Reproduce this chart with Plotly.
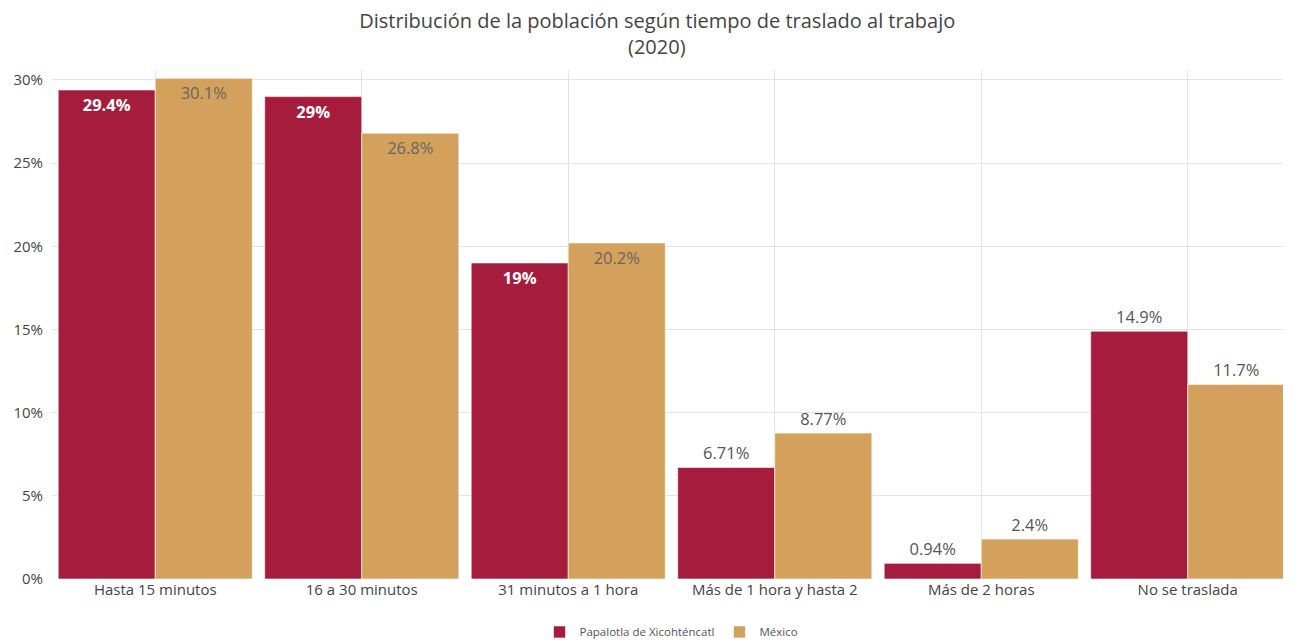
import plotly.graph_objects as go

categories = ["Hasta 15 minutos", "16 a 30 minutos", "31 minutos a 1 hora",
              "Más de 1 hora y hasta 2", "Más de 2 horas", "No se traslada"]
papalotla = [29.4, 29, 19, 6.71, 0.94, 14.9]
mexico = [30.1, 26.8, 20.2, 8.77, 2.4, 11.7]
papalotla_pos = ["inside", "inside", "inside", "outside", "outside", "outside"]
mexico_pos = ["inside", "inside", "inside", "outside", "outside", "outside"]
y_ticks = [0, 5, 10, 15, 20, 25, 30]

FONT = "Open Sans"
fig = go.Figure()
fig.add_trace(go.Bar(
    x=categories, y=papalotla, name="Papalotla de Xicohténcatl",
    marker=dict(color="#A51C3D", line=dict(color="rgba(255,255,255,0.6)", width=1)),
    texttemplate="%{y}%", textposition=papalotla_pos, insidetextanchor="end",
    insidetextfont=dict(color="white", size=16.5, family=FONT, weight="bold"),
    outsidetextfont=dict(color="#555555", size=16.5, family=FONT),
    cliponaxis=False,
))
fig.add_trace(go.Bar(
    x=categories, y=mexico, name="México",
    marker=dict(color="#D3A15C", line=dict(color="rgba(255,255,255,0.6)", width=1)),
    texttemplate="%{y}%", textposition=mexico_pos, insidetextanchor="end",
    insidetextfont=dict(color="#666666", size=16.5, family=FONT),
    outsidetextfont=dict(color="#555555", size=16.5, family=FONT),
    cliponaxis=False,
))
fig.update_layout(
    width=1283, height=636,
    margin=dict(l=44, r=0, t=62, b=65),
    paper_bgcolor="white", plot_bgcolor="white",
    font=dict(family=FONT, color="#444444", size=14),
    title=dict(text="Distribución de la población según tiempo de traslado al trabajo",
               x=0.506, xanchor="center", yref="container", y=0.9796, yanchor="middle",
               font=dict(size=20, color="#444444", family=FONT)),
    annotations=[dict(text="(2020)", x=0.488, y=1.046, xref="paper", yref="paper",
                      xanchor="center", yanchor="middle", showarrow=False,
                      font=dict(size=20, color="#444444", family=FONT))],
    barmode="group", bargap=0.06, bargroupgap=0.0,
    showlegend=True,
    legend=dict(orientation="h", x=0.5, xanchor="center", yref="container", y=0.019, yanchor="middle",
                font=dict(size=11.5, color="#555555")),
    xaxis=dict(showgrid=True, gridcolor="#e3e3e3", ticks="", automargin=False,
               tickfont=dict(size=15, color="#444444")),
    yaxis=dict(range=[0, 30.6], tickvals=y_ticks, ticktext=[f"{v}%" for v in y_ticks],
               gridcolor="#e3e3e3", zeroline=False, automargin=False,
               tickfont=dict(size=15, color="#444444"),
               ticks="outside", ticklen=5, tickcolor="white"),
)
fig.write_html("out.html")
